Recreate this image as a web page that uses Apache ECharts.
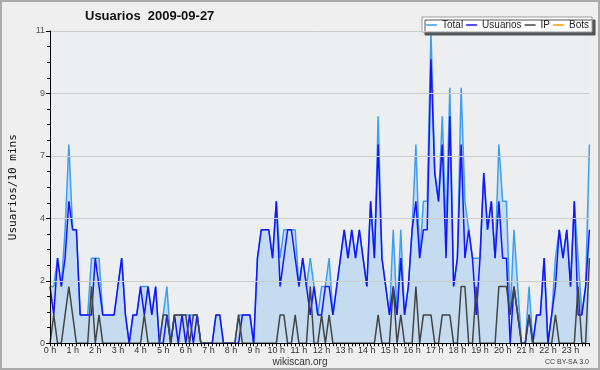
<!DOCTYPE html>
<html><head><meta charset="utf-8">
<script src="https://cdn.jsdelivr.net/npm/echarts@6/dist/echarts.min.js"></script>
<style>html,body{margin:0;padding:0;background:#efefef}#c{width:600px;height:370px}</style>
</head><body><div id="c"></div>
<script>
const hourLabels = ['0 h','1 h','2 h','3 h','4 h','5 h','6 h','7 h','8 h','9 h','10 h','11 h','12 h','13 h','14 h','15 h','16 h','17 h','18 h','19 h','20 h','21 h','22 h','23 h'];
const minuteSlots = ['00','10','20','30','40','50'];

const total = [2,2,3,2,4,7,4,4,1,1, 1,3,3,3,1,1,1,1,2,3, 1,0,1,1,2,2,2,1,2,0,
  1,2,0,1,1,1,1,1,1,1, 0,0,0,0,1,1,0,0,0,0, 1,1,1,1,0,3,4,4,4,3,
  5,3,4,4,4,4,2,3,2,3, 2,1,2,2,3,1,2,3,4,3, 4,3,4,3,2,5,3,8,3,2,
  1,4,1,4,1,2,4,7,3,5, 5,11,6,5,8,4,9,2,3,9, 5,4,3,3,3,6,4,5,3,7,
  5,5,1,4,2,0,0,2,0,1, 1,3,0,1,3,4,3,4,2,5, 3,1,2,7];
const usuarios = [2,1,3,2,3,5,4,4,1,1, 1,1,3,2,1,1,1,1,2,3, 1,0,1,1,2,1,2,1,2,0,
  0,1,0,1,0,1,0,1,0,1, 0,0,0,0,1,1,0,0,0,0, 0,1,1,1,0,3,4,4,4,3,
  5,2,3,4,4,3,2,3,2,1, 2,1,1,2,2,1,2,3,4,3, 4,3,4,3,2,5,3,7,3,2,
  1,2,1,3,1,2,4,5,3,4, 4,10,6,5,7,3,8,2,3,7, 3,4,3,1,3,6,4,5,3,5,
  3,3,0,2,1,0,0,1,0,1, 1,3,0,1,2,4,3,4,2,5, 1,1,2,4];
const ip = [0,1,0,0,1,2,1,0,0,0, 0,2,0,1,0,0,0,0,0,0, 0,0,0,0,0,1,0,0,0,0,
  1,1,0,1,1,1,1,0,1,1, 0,0,0,0,0,0,0,0,0,0, 1,0,0,0,0,0,0,0,0,0,
  0,1,1,0,0,1,0,0,0,2, 0,0,1,0,1,0,0,0,0,0, 0,0,0,0,0,0,0,1,0,0,
  0,2,0,1,0,0,0,2,0,1, 1,1,0,0,1,1,1,0,0,2, 2,0,0,2,0,0,0,0,0,2,
  2,2,1,2,1,0,0,1,0,0, 0,0,0,0,1,0,0,0,0,0, 2,0,0,3];
const bots = [0,0,0,0,0,0,0,0,0,0, 0,0,0,0,0,0,0,0,0,0, 0,0,0,0,0,0,0,0,0,0,
  0,0,0,0,0,0,0,0,0,0, 0,0,0,0,0,0,0,0,0,0, 0,0,0,0,0,0,0,0,0,0,
  0,0,0,0,0,0,0,0,0,0, 0,0,0,0,0,0,0,0,0,0, 0,0,0,0,0,0,0,0,0,0,
  0,0,0,0,0,0,0,0,0,0, 0,0,0,0,0,0,0,0,0,0, 0,0,0,0,0,0,0,0,0,0,
  0,0,0,0,0,0,0,0,0,0, 0,0,0,0,0,0,0,0,0,0, 0,0,0,0];

const categories = [];
hourLabels.forEach((h, hi) => minuteSlots.forEach(m => categories.push(hi + ':' + m)));

const chart = echarts.init(document.getElementById('c'), null, {renderer: 'canvas'});
const lineSeries = (name, data, color, extra) => Object.assign({
  name, type: 'line', data, symbol: 'none', animation: false,
  lineStyle: {color, width: 1.5}, itemStyle: {color}
}, extra || {});

chart.setOption({
  backgroundColor: '#efefef',
  animation: false,
  textStyle: {fontFamily: 'Liberation Sans'},
  grid: {left: 46, right: 10.6, top: 31, bottom: 26.7, show: true, backgroundColor: '#edeef0', borderWidth: 0},
  legend: {
    left: 422, top: 17, orient: 'horizontal',
    icon: 'rect', itemWidth: 11, itemHeight: 1.5, itemGap: 3,
    backgroundColor: '#ffffff', borderColor: '#999999', borderWidth: 1,
    shadowColor: '#555555', shadowOffsetX: 3, shadowOffsetY: 3, shadowBlur: 0,
    padding: [3, 3, 2, 4],
    textStyle: {fontSize: 10, color: '#222', fontFamily: 'Liberation Sans'},
    data: ['Total', 'Usuarios', 'IP', 'Bots']
  },
  xAxis: {
    type: 'category', data: categories, boundaryGap: false, z: 5,
    axisLine: {lineStyle: {color: '#000', width: 1}},
    axisTick: {interval: 0, length: 3, lineStyle: {color: '#000'}},
    axisLabel: {
      interval: (idx) => idx % 6 === 0,
      formatter: (v, idx) => hourLabels[Math.floor(idx / 6)],
      fontSize: 9, color: '#333', margin: 3, fontFamily: 'Liberation Sans'
    },
    splitLine: {show: false}
  },
  yAxis: {
    type: 'value', min: 0, max: 11, interval: 2.2, z: 5,
    name: 'Usuarios/10 mins', nameLocation: 'middle', nameGap: 31,
    nameTextStyle: {fontFamily: 'DejaVu Sans Mono', fontSize: 11, color: '#111'},
    axisLine: {show: true, lineStyle: {color: '#000', width: 1}},
    axisTick: {show: true, length: 4, lineStyle: {color: '#000'}},
    minorTick: {show: true, splitNumber: 4, length: 3, lineStyle: {color: '#000'}},
    axisLabel: {formatter: v => String(Math.round(v)), fontSize: 9, color: '#555', margin: 5},
    splitLine: {show: true, lineStyle: {color: '#cccccc', width: 1}}
  },
  series: [
    lineSeries('Total', total, '#3d9ef2', {areaStyle: {color: '#c5dcf0', opacity: 1}, z: 2}),
    lineSeries('Usuarios', usuarios, '#1414ff', {z: 3}),
    lineSeries('IP', ip, '#444444', {z: 4}),
    lineSeries('Bots', bots, '#ff9900', {z: 1})
  ],
  graphic: [
    {type: 'text', left: 85, top: 10, z: 10, style: {text: 'Usuarios  2009-09-27', font: 'bold 13px "Liberation Sans"', fill: '#111'}},
    {type: 'text', x: 300, y: 362, z: 10, style: {text: 'wikiscan.org', font: '10px "Liberation Sans"', fill: '#333', textAlign: 'center', textVerticalAlign: 'middle'}},
    {type: 'text', x: 589, y: 362, z: 10, style: {text: 'CC BY-SA 3.0', font: '7px "Liberation Sans"', fill: '#444', textAlign: 'right', textVerticalAlign: 'middle'}},
    {type: 'rect', z: 20, shape: {x: 1, y: 1, width: 598, height: 368}, style: {fill: 'none', stroke: '#aaaaaa', lineWidth: 2}}
  ]
});
</script></body></html>
